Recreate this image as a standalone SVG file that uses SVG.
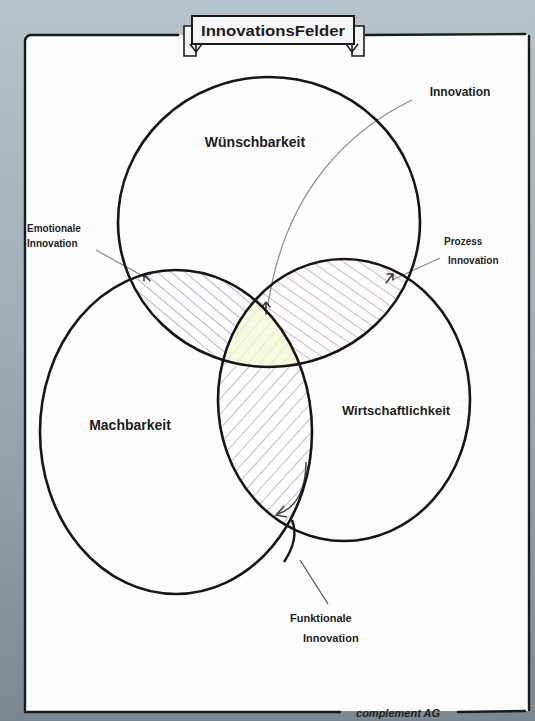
<svg xmlns="http://www.w3.org/2000/svg" width="535" height="721" viewBox="0 0 535 721">
<style>
.circ{fill:none;stroke:#161616;stroke-width:2.6}
.frame{fill:none;stroke:#1a1a1a;stroke-width:2.4;stroke-linecap:round}
.lbl{font-family:"Liberation Sans",Arial,sans-serif;fill:#1e1e1e;font-weight:bold}
.ptr{fill:none;stroke:#8a8a8a;stroke-width:1.2}
.arr{fill:none;stroke:#3a3a3a;stroke-width:1.5;stroke-linecap:round;stroke-linejoin:round}
</style>
<defs>
<linearGradient id="bg" x1="0" y1="0" x2="0" y2="1">
<stop offset="0" stop-color="#b7c3cb"/>
<stop offset="0.5" stop-color="#9eabb4"/>
<stop offset="1" stop-color="#7b8891"/>
</linearGradient>
<clipPath id="cW"><ellipse cx="269" cy="222" rx="151" ry="145"/></clipPath>
<clipPath id="cM"><ellipse cx="176" cy="432" rx="136" ry="162"/></clipPath>
<clipPath id="cR"><ellipse cx="344" cy="400" rx="126" ry="141"/></clipPath>
<pattern id="hBlue" width="9" height="9" patternUnits="userSpaceOnUse" patternTransform="rotate(-50)">
<line x1="0" y1="0" x2="0" y2="9" stroke="#7d84c4" stroke-width="1.2"/></pattern>
<pattern id="hPink" width="9" height="9" patternUnits="userSpaceOnUse" patternTransform="rotate(-55)">
<line x1="0" y1="0" x2="0" y2="9" stroke="#cf8080" stroke-width="1.2"/></pattern>
<pattern id="hLav" width="10" height="10" patternUnits="userSpaceOnUse" patternTransform="rotate(42)">
<line x1="0" y1="0" x2="0" y2="10" stroke="#8f93cc" stroke-width="1.2"/></pattern>
<pattern id="hYel" width="9" height="9" patternUnits="userSpaceOnUse" patternTransform="rotate(40)">
<line x1="0" y1="0" x2="0" y2="9" stroke="#d6e09a" stroke-width="1.2"/></pattern>
</defs>

<rect width="535" height="721" fill="url(#bg)"/>
<rect x="25" y="35" width="504" height="676" fill="#fdfdfd"/>

<g id="frame">
<path class="frame" d="M25,40 Q26,36 30,35 L178,35"/>
<path class="frame" d="M366,35 L525,34"/>
<path class="frame" d="M25,40 L25,712"/>
<path class="frame" d="M529,36 L529,710"/>
<path class="frame" d="M25,712 L340,712"/>
<path class="frame" d="M458,712 L525,711"/>
</g>

<g id="title">
<path d="M184,26 L196,26 L196,56 L184,56 Z" fill="#f4f4f4" stroke="#1a1a1a" stroke-width="1.6"/>
<path d="M352,26 L364,26 L364,56 L352,56 Z" fill="#f4f4f4" stroke="#1a1a1a" stroke-width="1.6"/>
<path d="M190,44 L196,52 L202,44" fill="none" stroke="#1a1a1a" stroke-width="1.4"/>
<path d="M346,44 L352,52 L358,44" fill="none" stroke="#1a1a1a" stroke-width="1.4"/>
<rect x="192" y="16" width="162" height="28" fill="#f8f8f8" stroke="#1a1a1a" stroke-width="2"/>
<text class="lbl" x="273" y="36" font-size="15" text-anchor="middle" font-weight="normal" textLength="144" lengthAdjust="spacingAndGlyphs">InnovationsFelder</text>
</g>

<g id="regions">
<g clip-path="url(#cW)"><g clip-path="url(#cM)"><rect x="0" y="0" width="535" height="721" fill="url(#hBlue)"/></g></g>
<g clip-path="url(#cW)"><g clip-path="url(#cR)"><rect x="0" y="0" width="535" height="721" fill="url(#hPink)"/></g></g>
<g clip-path="url(#cM)"><g clip-path="url(#cR)"><rect x="0" y="0" width="535" height="721" fill="url(#hLav)"/></g></g>
<g clip-path="url(#cW)"><g clip-path="url(#cM)"><g clip-path="url(#cR)"><rect x="0" y="0" width="535" height="721" fill="#f6f8e2"/><rect x="0" y="0" width="535" height="721" fill="url(#hYel)"/></g></g></g>
</g>

<g id="connectors">
<path class="ptr" d="M412,100 C350,130 285,190 268,305"/>
<path class="ptr" d="M96,250 L150,280"/>
<path class="ptr" d="M440,258 L392,280"/>
<path d="M300,560 L328,604" fill="none" stroke="#555" stroke-width="1.3"/>
<path class="arr" d="M150,281 L144,274 M144,274 L144,281 M144,274 L151,274"/>
<path class="arr" d="M266,314 L266,303 M262,307 L266,302 L270,307"/>
<path class="arr" d="M386,283 L393,274 M387,274 L393,274 L393,280"/>
<path d="M306,462 C306,490 296,508 278,514" fill="none" stroke="#444" stroke-width="1.5"/>
<path d="M284,506 L276,515 L287,517" fill="none" stroke="#444" stroke-width="1.5"/>
<path d="M292,520 C298,535 292,550 284,562" fill="none" stroke="#161616" stroke-width="2.4"/>
</g>

<g id="wuenschbarkeit">
<ellipse class="circ" cx="269" cy="222" rx="151" ry="145"/>
<text class="lbl" x="255" y="147" font-size="14" text-anchor="middle">Wünschbarkeit</text>
</g>
<g id="machbarkeit">
<ellipse class="circ" cx="176" cy="432" rx="136" ry="162"/>
<text class="lbl" x="130" y="430" font-size="14" text-anchor="middle">Machbarkeit</text>
</g>
<g id="wirtschaftlichkeit">
<ellipse class="circ" cx="344" cy="400" rx="126" ry="141"/>
<text class="lbl" x="396" y="415" font-size="13" text-anchor="middle">Wirtschaftlichkeit</text>
</g>

<g id="innovation">
<text class="lbl" x="460" y="96" font-size="12" text-anchor="middle">Innovation</text>
</g>
<g id="emotionale">
<text class="lbl" x="27" y="232" font-size="10">Emotionale</text>
<text class="lbl" x="27" y="247" font-size="10">Innovation</text>
</g>
<g id="prozess">
<text class="lbl" x="444" y="245" font-size="10">Prozess</text>
<text class="lbl" x="448" y="264" font-size="10">Innovation</text>
</g>
<g id="funktionale">
<text class="lbl" x="290" y="622" font-size="11">Funktionale</text>
<text class="lbl" x="303" y="642" font-size="11">Innovation</text>
</g>
<g id="footer">
<text class="lbl" x="398" y="717" font-size="11" text-anchor="middle" font-style="italic">complement AG</text>
</g>
</svg>
